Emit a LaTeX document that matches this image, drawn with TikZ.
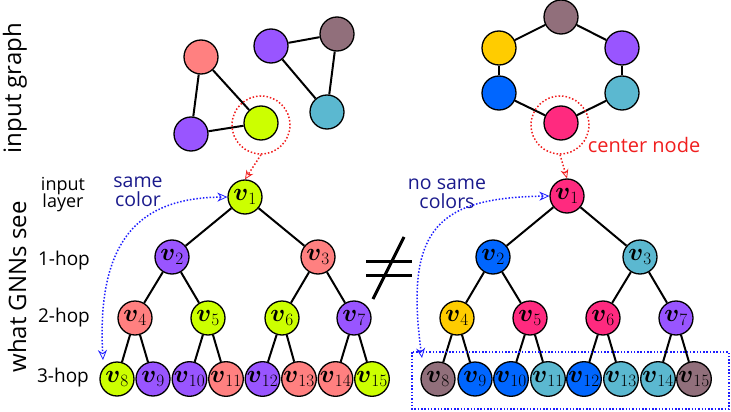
\documentclass[tikz,border=0pt]{standalone}
\usepackage{amsmath}
\usepackage{fontspec}
\newfontfamily\lab{Open Sans}
\usetikzlibrary{arrows.meta}

\definecolor{clime}{RGB}{204,255,0}
\definecolor{cpurp}{RGB}{153,85,255}
\definecolor{csalm}{RGB}{255,128,128}
\definecolor{cmauve}{RGB}{145,111,123}
\definecolor{ccyan}{RGB}{91,184,208}
\definecolor{cyell}{RGB}{255,204,0}
\definecolor{cblue}{RGB}{0,102,255}
\definecolor{cpink}{RGB}{255,42,127}
\definecolor{navy}{RGB}{26,26,140}
\definecolor{dotblue}{RGB}{30,30,255}
\definecolor{dotred}{RGB}{240,30,30}

\newcommand{\vv}[1]{$\boldsymbol{v}_{#1}$}

\tikzset{
  gn/.style={circle, draw=black, line width=1.3pt, minimum size=34pt, inner sep=0pt,
             font=\fontsize{24}{26}\selectfont},
  edge/.style={line width=2pt, black},
  hop/.style={font=\lab\fontsize{19}{19}\selectfont, inner sep=0pt},
  layerlbl/.style={font=\lab\fontsize{18}{18}\selectfont, inner sep=0pt, anchor=base},
  side/.style={font=\lab\fontsize{24}{24}\selectfont, rotate=90, inner sep=0pt},
  note/.style={font=\lab\fontsize{19.5}{19.5}\selectfont, text=navy, inner sep=0pt, anchor=base},
  focus/.style={circle, draw=dotred, line width=1.5pt, dash pattern=on 1.5pt off 2pt,
                minimum size=58pt, inner sep=0pt},
  redarrow/.style={draw=dotred, line width=1.5pt, dash pattern=on 1.5pt off 2pt,
                   -{Stealth[open,length=9pt,width=8pt,line width=0.8pt]}},
  bluearrow/.style={draw=dotblue, line width=1.5pt, dash pattern=on 1.5pt off 1.8pt,
                   {Stealth[open,length=10pt,width=9pt,line width=0.8pt]}-{Stealth[open,length=10pt,width=9pt,line width=0.8pt]}},
  neq/.style={line width=3pt, black}
}

\begin{document}
\begin{tikzpicture}[x=1pt,y=-1pt]
\useasboundingbox (0,0) rectangle (731,412);

% side labels
\node[side] (lblin) at (15,88) {input graph};
\node[side] (lblsee) at (17,287) {what GNNs see};
\node[layerlbl] (lblinput) at (63,190) {input};
\node[layerlbl] (lbllayer) at (63,207) {layer};
\node[hop] (lbl1) at (64,261) {1-hop};
\node[hop] (lbl2) at (64,318) {2-hop};
\node[hop] (lbl3) at (63,378) {3-hop};

% ---------- left input graph ----------
\node[gn, fill=csalm] (ga) at (201,57) {};
\node[gn, fill=cpurp] (gb) at (191,134) {};
\node[gn, fill=clime] (gc) at (261,123) {};
\node[gn, fill=cpurp] (gd) at (271,46) {};
\node[gn, fill=cmauve] (ge) at (337,34) {};
\node[gn, fill=ccyan] (gf) at (327,112) {};
\draw[edge] (ga) -- (gb); \draw[edge] (ga) -- (gc); \draw[edge] (gb) -- (gc);
\draw[edge] (gd) -- (ge); \draw[edge] (ge) -- (gf); \draw[edge] (gd) -- (gf);
\node[focus] (lfocus) at (261,125) {};

% ---------- right input graph ----------
\node[gn, fill=cmauve] (ha) at (561,17) {};
\node[gn, fill=cyell] (hb) at (499,48) {};
\node[gn, fill=cpurp] (hc) at (622,48) {};
\node[gn, fill=cblue] (hd) at (499,93) {};
\node[gn, fill=ccyan] (he) at (622,93) {};
\node[gn, fill=cpink] (hf) at (561,123) {};
\draw[edge] (ha) -- (hb); \draw[edge] (ha) -- (hc);
\draw[edge] (hb) -- (hd); \draw[edge] (hc) -- (he);
\draw[edge] (hd) -- (hf); \draw[edge] (he) -- (hf);
\node[focus] (rfocus) at (560,125) {};
\node[font=\lab\fontsize{20}{20}\selectfont, text=dotred, inner sep=0pt] (cnode) at (644,145) {center node};

% ---------- left tree ----------
\node[gn, fill=clime] (l1) at (245,197) {\vv{1}};
\node[gn, fill=cpurp] (l2) at (172,257) {\vv{2}};
\node[gn, fill=csalm] (l3) at (318,257) {\vv{3}};
\node[gn, fill=csalm] (l4) at (135,318) {\vv{4}};
\node[gn, fill=clime] (l5) at (208,318) {\vv{5}};
\node[gn, fill=clime] (l6) at (282,318) {\vv{6}};
\node[gn, fill=cpurp] (l7) at (354,318) {\vv{7}};
\node[gn, fill=clime] (l8) at (117,379) {\vv{8}};
\node[gn, fill=cpurp] (l9) at (153,379) {\vv{9}};
\node[gn, fill=cpurp] (l10) at (189.5,379) {\vv{10}};
\node[gn, fill=csalm] (l11) at (226,379) {\vv{11}};
\node[gn, fill=cpurp] (l12) at (262.5,379) {\vv{12}};
\node[gn, fill=csalm] (l13) at (299,379) {\vv{13}};
\node[gn, fill=csalm] (l14) at (335.5,379) {\vv{14}};
\node[gn, fill=clime] (l15) at (372,379) {\vv{15}};
\foreach \p/\c in {1/2,1/3,2/4,2/5,3/6,3/7,4/8,4/9,5/10,5/11,6/12,6/13,7/14,7/15}
  \draw[edge] (l\p) -- (l\c);

% ---------- right tree ----------
\node[gn, fill=cpink] (r1) at (567,196) {\vv{1}};
\node[gn, fill=cblue] (r2) at (493,257) {\vv{2}};
\node[gn, fill=ccyan] (r3) at (640,257) {\vv{3}};
\node[gn, fill=cyell] (r4) at (457,318) {\vv{4}};
\node[gn, fill=cpink] (r5) at (530,318) {\vv{5}};
\node[gn, fill=cpink] (r6) at (603,318) {\vv{6}};
\node[gn, fill=cpurp] (r7) at (676,318) {\vv{7}};
\node[gn, fill=cmauve] (r8) at (438,379) {\vv{8}};
\node[gn, fill=cblue] (r9) at (475,379) {\vv{9}};
\node[gn, fill=cblue] (r10) at (511,379) {\vv{10}};
\node[gn, fill=ccyan] (r11) at (548,379) {\vv{11}};
\node[gn, fill=cblue] (r12) at (584,379) {\vv{12}};
\node[gn, fill=ccyan] (r13) at (621,379) {\vv{13}};
\node[gn, fill=ccyan] (r14) at (658,379) {\vv{14}};
\node[gn, fill=cmauve] (r15) at (694,379) {\vv{15}};
\foreach \p/\c in {1/2,1/3,2/4,2/5,3/6,3/7,4/8,4/9,5/10,5/11,6/12,6/13,7/14,7/15}
  \draw[edge] (r\p) -- (r\c);

% frame around the right 3-hop layer
\draw[draw=dotblue, line width=1.5pt, dash pattern=on 1.5pt off 1.8pt] (412,352) rectangle (729,409);

% not-equal sign between the trees
\draw[neq] (366,261) -- (412,261);
\draw[neq] (366,275) -- (412,275);
\draw[neq] (404,237) -- (373,299);

% arrows from the input graphs to the tree roots
\draw[redarrow] (lfocus.south) -- (l1.north);
\draw[redarrow] (rfocus.south) -- (r1.north);

% colour comparison notes and arrows
\node[note] (same1) at (138,187.5) {same};
\node[note] (same2) at (138,206.5) {color};
\node[note] (nosame1) at (447,189.5) {no same};
\node[note] (nosame2) at (447,208.5) {colors};
\coordinate (lend) at (103,360);
\coordinate (rend) at (422,358);
\draw[bluearrow] (l1.west) .. controls (150,198) and (96,228) .. (lend);
\draw[bluearrow] (r1.west) .. controls (440,198) and (404,226) .. (rend);
\end{tikzpicture}
\end{document}
